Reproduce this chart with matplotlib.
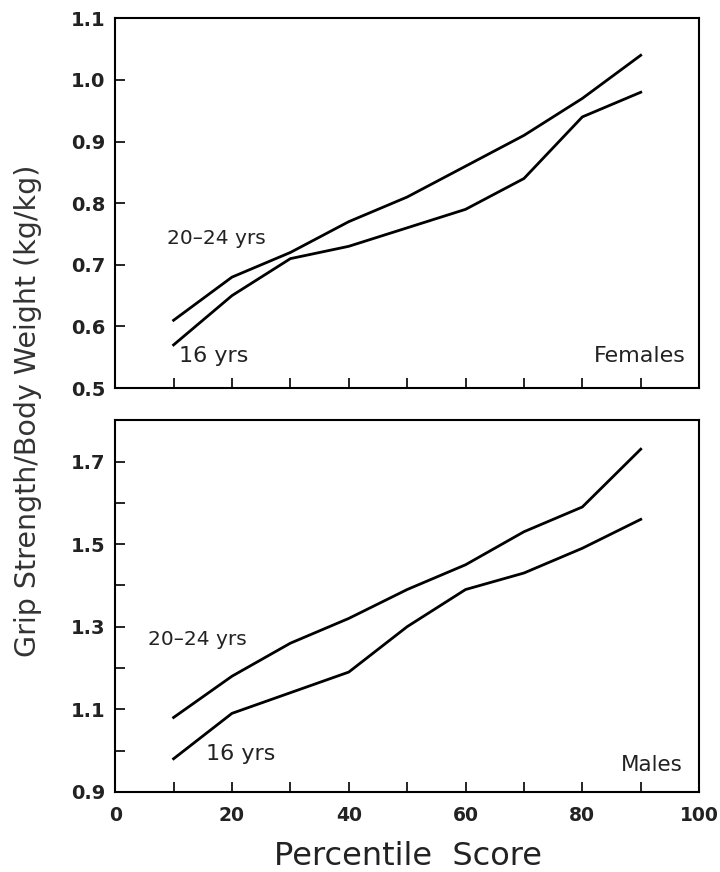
import matplotlib
matplotlib.use("Agg")
import matplotlib.pyplot as plt
from matplotlib.ticker import MultipleLocator, FormatStrFormatter

percentile = [10, 20, 30, 40, 50, 60, 70, 80, 90]

# females
fem_20_24 = [0.61, 0.68, 0.72, 0.77, 0.81, 0.86, 0.91, 0.97, 1.04]
fem_16 = [0.57, 0.65, 0.71, 0.73, 0.76, 0.79, 0.84, 0.94, 0.98]

# males
male_20_24 = [1.08, 1.18, 1.26, 1.32, 1.39, 1.45, 1.53, 1.59, 1.73]
male_16 = [0.98, 1.09, 1.14, 1.19, 1.30, 1.39, 1.43, 1.49, 1.56]

plt.rcParams['font.family'] = ['DejaVu Sans']

fig = plt.figure(figsize=(7.2, 8.72), dpi=100)
ax1 = fig.add_axes([0.160, 0.555, 0.811, 0.424])
ax2 = fig.add_axes([0.160, 0.092, 0.811, 0.426])


def style_axis(ax, show_x):
    ax.set_xlim(0, 100)
    ax.xaxis.set_major_locator(MultipleLocator(20))
    ax.xaxis.set_minor_locator(MultipleLocator(10))
    ax.tick_params(which='both', direction='in', width=1.2, length=7,
                   top=False, right=False)
    ax.tick_params(axis='y', which='major', labelsize=14, pad=7)
    ax.tick_params(axis='x', which='major', labelsize=13.5, pad=10)
    for s in ax.spines.values():
        s.set_linewidth(1.5)
    if not show_x:
        ax.tick_params(axis='x', labelbottom=False)
    for lab in ax.get_xticklabels() + ax.get_yticklabels():
        lab.set_fontweight('semibold')
        lab.set_color('#222222')


# top panel (females)
ax1.plot(percentile, fem_20_24, color='black', lw=2)
ax1.plot(percentile, fem_16, color='black', lw=2)
ax1.set_ylim(0.5, 1.1)
ax1.yaxis.set_major_locator(MultipleLocator(0.1))
ax1.yaxis.set_major_formatter(FormatStrFormatter('%.1f'))
style_axis(ax1, False)
ax1.text(8.8, 0.742, '20\u201324 yrs', fontsize=14.5, va='center', ha='left', color='#222222')
ax1.text(11, 0.552, '16 yrs', fontsize=16, va='center', ha='left', color='#222222')
ax1.text(97.7, 0.552, 'Females', fontsize=16, va='center', ha='right', color='#222222')

# bottom panel (males)
ax2.plot(percentile, male_20_24, color='black', lw=2)
ax2.plot(percentile, male_16, color='black', lw=2)
ax2.set_ylim(0.9, 1.8)
ax2.set_yticks([0.9, 1.1, 1.3, 1.5, 1.7])
ax2.yaxis.set_minor_locator(MultipleLocator(0.1))
ax2.yaxis.set_major_formatter(FormatStrFormatter('%.1f'))
style_axis(ax2, True)
ax2.text(5.7, 1.268, '20\u201324 yrs', fontsize=14.5, va='center', ha='left', color='#222222')
ax2.text(15.6, 0.992, '16 yrs', fontsize=16, va='center', ha='left', color='#222222')
ax2.text(97.2, 0.965, 'Males', fontsize=15.5, va='center', ha='right', color='#222222')

fig.text(0.567, 0.008, 'Percentile  Score', fontsize=23, ha='center', va='baseline',
         color='#222222')
fig.text(0.039, 0.529, 'Grip Strength/Body Weight (kg/kg)', rotation=90,
         fontsize=20.5, va='center', ha='center', color='#333333')

fig.savefig('out.png', dpi=100)
